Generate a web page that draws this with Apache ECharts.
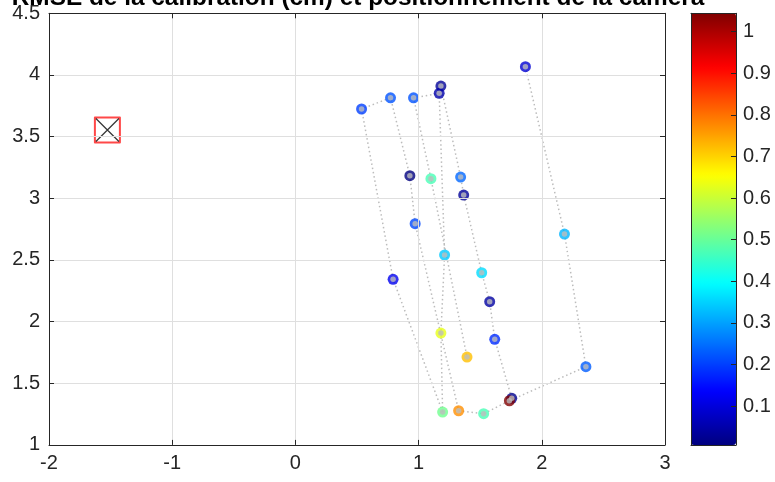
<!DOCTYPE html>
<html><head><meta charset="utf-8">
<script src="https://cdn.jsdelivr.net/npm/echarts@6/dist/echarts.min.js"></script>
<style>html,body{margin:0;padding:0;background:#fff}#c{width:775px;height:482px}</style>
</head><body><div id="c"></div>
<script>
// ---- data ----
const ptX = [1.867, 1.181, 1.167, 0.959, 0.772, 0.537, 0.929, 1.100, 1.341, 1.366, 0.972, 2.184, 1.211, 0.793, 1.512, 1.577, 1.181, 1.618, 1.393, 2.358, 1.756, 1.737, 1.195, 1.325, 1.528];
const ptY = [4.067, 3.910, 3.851, 3.815, 3.815, 3.724, 3.183, 3.159, 3.172, 3.026, 2.794, 2.710, 2.540, 2.343, 2.396, 2.161, 1.907, 1.856, 1.712, 1.634, 1.378, 1.358, 1.266, 1.277, 1.253];
const rmse = [0.09, 0.03, 0.05, 0.22, 0.22, 0.20, 0.0065, 0.47, 0.24, 0.03, 0.21, 0.32, 0.34, 0.12, 0.36, 0.04, 0.63, 0.18, 0.72, 0.23, 0.02, 1.044, 0.51, 0.77, 0.47];
const paths = [
  [22, 13, 5, 4, 6, 10, 23],
  [22, 16, 12, 2, 3, 7, 18],
  [1, 8, 9, 14, 15, 17, 20],
  [23, 24, 21, 19, 11, 0]
];
const camera = [-1.526, 3.554];
const cbTicks = [0.1, 0.2, 0.3, 0.4, 0.5, 0.6, 0.7, 0.8, 0.9, 1];
const titleText = 'RMSE de la calibration (cm) et positionnement de la caméra';

// ---- style ----
const FONT = 'Liberation Sans';
const TXT = '#262626';
const FS = 20;
const jet = ['#000080','#0000ff','#0080ff','#00ffff','#80ff80','#ffff00','#ff8000','#ff0000','#800000'];
const G = {left: 49, top: 13.3, width: 616, height: 431.6};
const CB = {left: 691, top: 13.3, width: 45, height: 431.6};

const cmin = Math.min(...rmse), cmax = Math.max(...rmse);
const pts = ptX.map((x, i) => [x, ptY[i], rmse[i]]);

const lbl = {fontFamily: FONT, fontSize: FS, color: TXT};
function mainAxis(pos, min, max, interval, labels, split) {
  return {
    type: 'value', gridIndex: 0, position: pos, min, max, interval,
    axisLine: {show: true, onZero: false, lineStyle: {color: TXT, width: 1}},
    axisTick: {show: true, inside: true, length: 5, lineStyle: {color: TXT}},
    axisLabel: labels ? Object.assign({show: true, margin: 9}, lbl) : {show: false},
    splitLine: {show: split, lineStyle: {color: '#dfdfdf', width: 1}},
    z: 5
  };
}
function cbAxisX(pos) {
  return {type: 'value', gridIndex: 1, position: pos, min: 0, max: 1,
    axisLine: {show: true, onZero: false, lineStyle: {color: TXT}},
    axisTick: {show: false}, axisLabel: {show: false}, splitLine: {show: false}, z: 10};
}

const series = [];
series.push({
  type: 'scatter', xAxisIndex: 0, yAxisIndex: 0, data: pts,
  symbol: 'circle', symbolSize: 11, z: 3, silent: true
});
series.push({
  type: 'scatter', xAxisIndex: 0, yAxisIndex: 0, data: pts,
  symbol: 'circle', symbolSize: 5.5, itemStyle: {color: '#bdbdbd'}, z: 4, silent: true
});
series.push({
  type: 'scatter', xAxisIndex: 0, yAxisIndex: 0, data: [camera],
  symbol: 'rect', symbolSize: 25,
  itemStyle: {color: '#ffffff', borderColor: '#ff1a1a', borderWidth: 2, borderJoin: 'round'}, z: 3, silent: true
});
series.push({
  type: 'scatter', xAxisIndex: 0, yAxisIndex: 0, data: [camera],
  symbol: 'path://M0,0L1,1M1,0L0,1', symbolSize: 23,
  itemStyle: {color: 'none', borderColor: '#000000', borderWidth: 1.2}, z: 4, silent: true
});
paths.forEach(p => series.push({
  type: 'line', xAxisIndex: 0, yAxisIndex: 0,
  data: p.map(i => [ptX[i], ptY[i]]),
  symbol: 'none', silent: true, z: 1,
  lineStyle: {color: '#bcbcbc', width: 1.5, type: [1.5, 2.8]}
}));

const chart = echarts.init(document.getElementById('c'));
chart.setOption({
  animation: false,
  backgroundColor: '#ffffff',
  title: {
    text: titleText, left: 358, top: -14, textAlign: 'center', padding: 0,
    textStyle: {fontFamily: FONT, fontWeight: 'bold', fontSize: 24.4, color: '#000'}
  },
  grid: [
    Object.assign({containLabel: false}, G),
    Object.assign({containLabel: false}, CB)
  ],
  xAxis: [
    mainAxis('bottom', -2, 3, 1, true, true),
    mainAxis('top', -2, 3, 1, false, false),
    cbAxisX('bottom'), cbAxisX('top')
  ],
  yAxis: [
    mainAxis('left', 1, 4.5, 0.5, true, true),
    mainAxis('right', 1, 4.5, 0.5, false, false),
    {type: 'value', gridIndex: 1, position: 'right', min: cmin, max: cmax,
      axisLine: {show: true, onZero: false, lineStyle: {color: TXT}},
      axisTick: {show: true, inside: true, length: 5, customValues: cbTicks, lineStyle: {color: TXT}},
      axisLabel: Object.assign({show: true, margin: 7, customValues: cbTicks}, lbl),
      splitLine: {show: false}, z: 10},
    {type: 'value', gridIndex: 1, position: 'left', min: cmin, max: cmax,
      axisLine: {show: true, onZero: false, lineStyle: {color: TXT}},
      axisTick: {show: false}, axisLabel: {show: false}, splitLine: {show: false}, z: 10}
  ],
  visualMap: {
    type: 'continuous', seriesIndex: 0, dimension: 2,
    min: cmin, max: cmax, inRange: {color: jet},
    calculable: false, hoverLink: false, realtime: false,
    left: CB.left, top: CB.top, itemWidth: CB.width, itemHeight: CB.height,
    padding: 0, text: null, showLabel: false, z: 2
  },
  series
});
</script>
</body></html>
